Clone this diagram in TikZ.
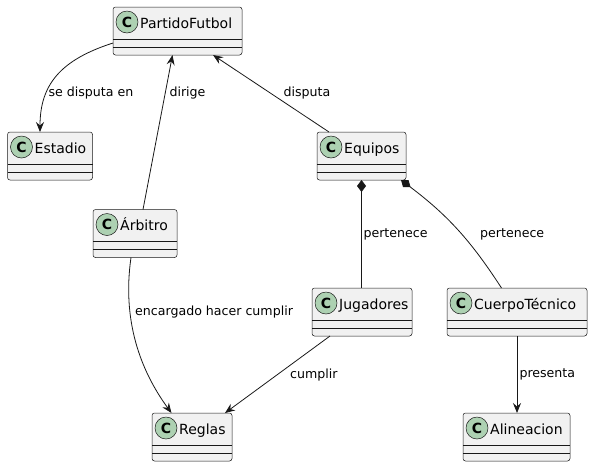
\documentclass[tikz,border=0pt]{standalone}
\usepackage{fontspec}
\setmainfont{DejaVu Sans}
\usetikzlibrary{arrows.meta,calc}
\definecolor{boxfill}{HTML}{F1F1F1}
\definecolor{boxline}{HTML}{181818}
\definecolor{circfill}{HTML}{ADD1B2}
\tikzset{
  classbox/.style={draw=boxline, fill=boxfill, line width=0.5pt, rounded corners=2.5pt, inner sep=0pt, outer sep=0pt},
  sepline/.style={draw=boxline, line width=0.5pt},
  cmark/.style={circle, draw=boxline, fill=circfill, line width=0.5pt, minimum size=22pt, inner sep=0pt, font=\fontsize{14}{16}\selectfont\bfseries},
  cname/.style={anchor=base west, inner sep=0pt, font=\fontsize{14}{16}\selectfont},
  rel/.style={draw=boxline, line width=0.8pt, -{Stealth[length=10pt,width=8pt,inset=3.5pt]}},
  comp/.style={draw=boxline, line width=0.8pt, {Diamond[length=12pt,width=9pt]}-},
  lbl/.style={anchor=west, inner sep=0pt, font=\fontsize{12.6}{15}\selectfont},
}
\newcommand\umlclass[5]{%
  \node[classbox, anchor=north west, minimum width=#4pt, minimum height=48pt] (#1) at (#2,#3) {};
  \draw[sepline] ([yshift=-32pt]#1.north west) -- ([yshift=-32pt]#1.north east);
  \draw[sepline] ([yshift=-40pt]#1.north west) -- ([yshift=-40pt]#1.north east);
  \node[cmark] (#1-c) at ([xshift=14pt,yshift=-15pt]#1.north west) {C};
  \node[cname] (#1-t) at ([xshift=27pt,yshift=-21pt]#1.north west) {#5};
}
\begin{document}
\begin{tikzpicture}[x=1pt,y=-1pt]
\useasboundingbox (0,0) rectangle (593,467);
\umlclass{PF}{113}{7}{129}{PartidoFutbol}
\umlclass{Est}{7.5}{132}{85}{Estadio}
\umlclass{Eq}{317}{132}{89}{Equipos}
\umlclass{Arb}{93}{209.5}{84}{Árbitro}
\umlclass{Jug}{312}{288}{100}{Jugadores}
\umlclass{CT}{447}{288}{140}{CuerpoTécnico}
\umlclass{Reg}{152}{413}{80}{Reglas}
\umlclass{Ali}{463}{413}{107}{Alineacion}

% PartidoFutbol -> Estadio
\draw[rel] ($(PF.north west)+(0,36)$) .. controls (60,60) and (40,85) .. ($(Est.north west)+(32.5,0)$);
\node[lbl] (l1) at (48.3,93) {se disputa en};

% Arbitro -> PartidoFutbol
\draw[rel] ($(Arb.north west)+(50,0)$) -- ($(PF.south west)+(59.5,0)$);
\node[lbl] (l2) at (169.3,93) {dirige};

% Equipos -> PartidoFutbol
\draw[rel] ($(Eq.north west)+(12,0)$) -- ($(PF.south west)+(100,0)$);
\node[lbl] (l3) at (283.3,93) {disputa};

% Equipos <>- Jugadores
\draw[comp] ($(Eq.south west)+(44.5,0)$) -- ($(Jug.north west)+(49.5,0)$);
\node[lbl] (l4) at (363.3,234) {pertenece};

% Equipos <>- CuerpoTecnico
\draw[comp] ($(Eq.south west)+(84,0)$) to[bend left=10] ($(CT.north west)+(54.5,0)$);
\node[lbl] (l5) at (480,234) {pertenece};

% Arbitro -> Reglas
\draw[rel] ($(Arb.south west)+(38,0)$) .. controls (122,320) and (140,370) .. ($(Reg.north west)+(19.5,0)$);
\node[lbl] (l6) at (135,312.3) {encargado hacer cumplir};

% Jugadores -> Reglas
\draw[rel] ($(Jug.south west)+(18,0)$) -- ($(Reg.north west)+(73,0)$);
\node[lbl] (l7) at (290,375) {cumplir};

% CuerpoTecnico -> Alineacion
\draw[rel] ($(CT.south west)+(70,0)$) -- ($(Ali.north west)+(54,0)$);
\node[lbl] (l8) at (519.3,374.3) {presenta};
\end{tikzpicture}
\end{document}
